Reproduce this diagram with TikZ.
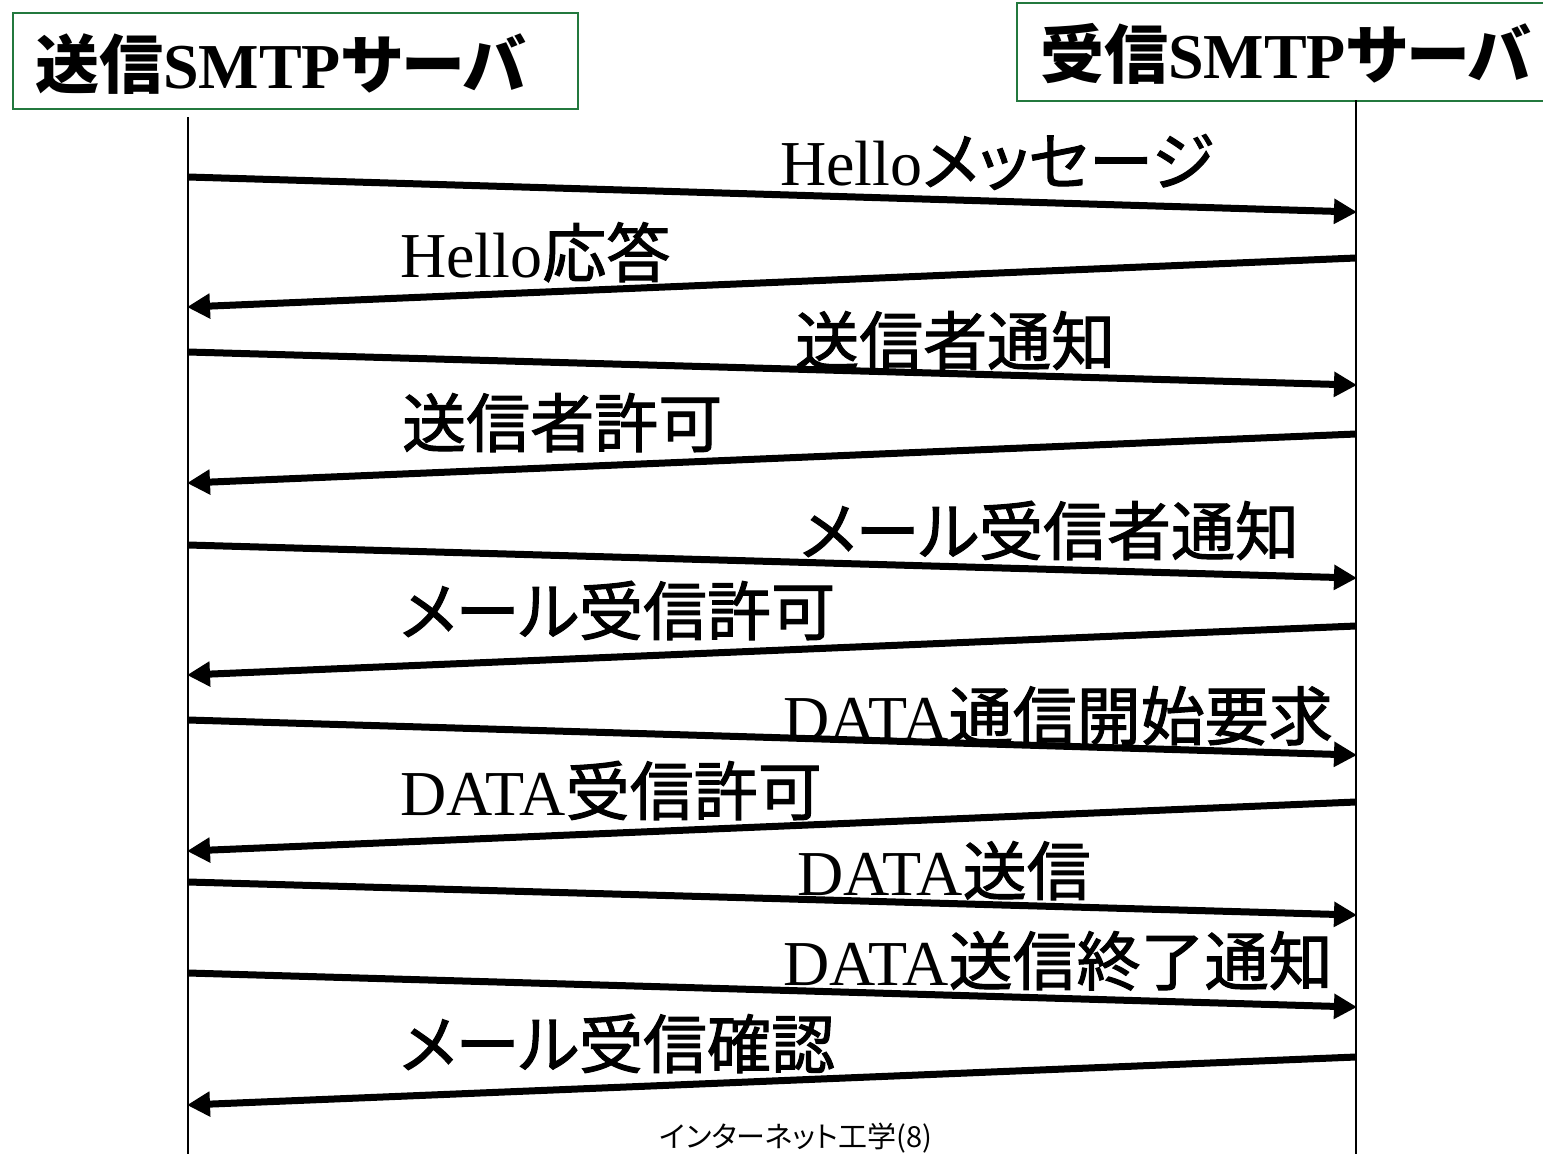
\documentclass[tikz,border=0pt]{standalone}
\usepackage{fontspec}
\setmainfont{Liberation Serif}
\newfontfamily\jp{Noto Sans CJK JP}[RawFeature=+palt]
\newfontfamily\jpl{Noto Sans CJK JP}[RawFeature=+palt, FakeBold=1.6]
\usetikzlibrary{arrows.meta}
\definecolor{boxgreen}{RGB}{35,120,62}
\newcommand\Jt[1]{{\jp\bfseries #1}}
\tikzset{
  titlebox/.style={draw=boxgreen, line width=2pt, anchor=north west, inner sep=0pt},
  titletext/.style={anchor=base west, inner sep=0pt, font=\fontsize{64}{70}\selectfont\bfseries},
  lifeline/.style={line width=1.6pt},
  msg/.style={line width=7pt, -{Triangle[length=23pt,width=24pt]}, shorten >=-1pt},
  msglabel/.style={anchor=base west, inner sep=0pt, font=\fontsize{64}{70}\selectfont},
  footer/.style={anchor=base, inner sep=0pt, font=\jp\fontsize{29}{32}\selectfont}
}
\begin{document}
\begin{tikzpicture}[x=1pt,y=-1pt]
\useasboundingbox (0,0) rectangle (1543,1154);
% title boxes
\node[titlebox, minimum width=565pt, minimum height=96pt] (sndbox) at (12,12) {};
\node[titlebox, minimum width=580pt, minimum height=98pt] (rcvbox) at (1016,2) {};
\node[titletext] (sndlbl) at (35,88) {\Jt{送信}SMTP\Jt{サーバ}};
\node[titletext] (rcvlbl) at (1040,78) {\Jt{受信}SMTP\Jt{サーバ}};
% lifelines
\coordinate (sTop) at (188,117);
\coordinate (sBot) at (188,1154);
\coordinate (rTop) at (1356,100);
\coordinate (rBot) at (1356,1154);
\draw[lifeline] (sTop) -- (sBot);
\draw[lifeline] (rTop) -- (rBot);
% message end points
\coordinate (s1) at (188,177);  \coordinate (r1) at (1356,212);
\coordinate (r2) at (1356,258); \coordinate (s2) at (188,307);
\coordinate (s3) at (188,352);  \coordinate (r3) at (1356,385);
\coordinate (r4) at (1356,434); \coordinate (s4) at (188,483);
\coordinate (s5) at (188,545);  \coordinate (r5) at (1356,578);
\coordinate (r6) at (1356,626); \coordinate (s6) at (188,675);
\coordinate (s7) at (188,720);  \coordinate (r7) at (1356,755);
\coordinate (r8) at (1356,802); \coordinate (s8) at (188,851);
\coordinate (s9) at (188,882);  \coordinate (r9) at (1356,915);
\coordinate (s10) at (188,973); \coordinate (r10) at (1356,1007);
\coordinate (r11) at (1356,1057); \coordinate (s11) at (188,1105);
% messages
\draw[msg] (s1) -- (r1);
\draw[msg] (r2) -- (s2);
\draw[msg] (s3) -- (r3);
\draw[msg] (r4) -- (s4);
\draw[msg] (s5) -- (r5);
\draw[msg] (r6) -- (s6);
\draw[msg] (s7) -- (r7);
\draw[msg] (r8) -- (s8);
\draw[msg] (s9) -- (r9);
\draw[msg] (s10) -- (r10);
\draw[msg] (r11) -- (s11);
% labels
\node[msglabel] (l1) at (780,185) {Hello{\jpl メッセージ}};
\node[msglabel] (l2) at (400,277) {Hello{\jpl 応答}};
\node[msglabel] (l3) at (795,365) {{\jpl 送信者通知}};
\node[msglabel] (l4) at (402,447) {{\jpl 送信者許可}};
\node[msglabel] (l5) at (800,555) {{\jpl メール受信者通知}};
\node[msglabel] (l6) at (400,635) {{\jpl メール受信許可}};
\node[msglabel] (l7) at (783,740) {DATA{\jpl 通信開始要求}};
\node[msglabel] (l8) at (400,815) {DATA{\jpl 受信許可}};
\node[msglabel] (l9) at (797,895) {DATA{\jpl 送信}};
\node[msglabel] (l10) at (783,985) {DATA{\jpl 送信終了通知}};
\node[msglabel] (l11) at (400,1068) {{\jpl メール受信確認}};
% footer
\node[footer] (foot) at (796,1147) {インターネット工学(8)};
\end{tikzpicture}
\end{document}
